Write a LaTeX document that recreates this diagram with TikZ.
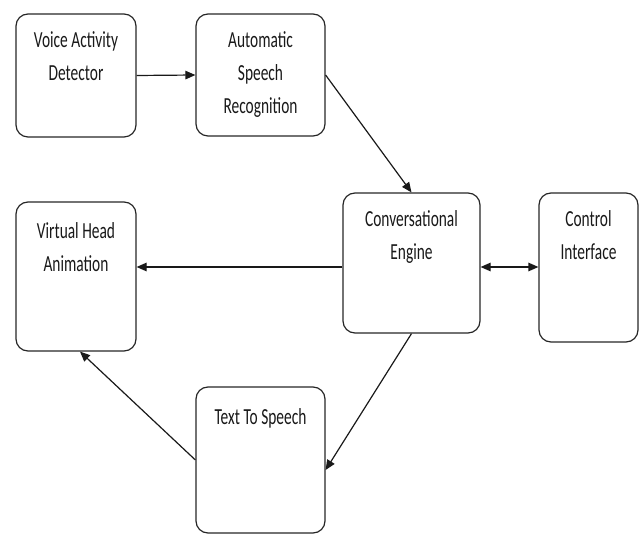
\documentclass[tikz,border=0pt]{standalone}
\usepackage{fontspec}
\setmainfont{Carlito}[FakeStretch=0.67]
\usetikzlibrary{arrows.meta}
\begin{document}
\begin{tikzpicture}[x=1pt,y=-1pt,
  blk/.style={draw=black!85, line width=1.2pt, rounded corners=12pt, inner sep=0pt},
  lbl/.style={anchor=north, align=center, inner sep=0pt, text=black!90,
              font=\fontsize{23}{33}\selectfont},
  arr/.style={draw=black!90, line width=1.2pt, -{Triangle[length=10pt,width=8.5pt]}},
  darr/.style={draw=black!90, line width=1.2pt, {Triangle[length=10pt,width=8.5pt]}-{Triangle[length=10pt,width=8.5pt]}}]
\useasboundingbox (0,0) rectangle (641,534);

% blocks
\node[blk, minimum width=120pt, minimum height=123pt] (vad) at (76,75.5) {};
\node[blk, minimum width=129pt, minimum height=122pt] (asr) at (260.5,75) {};
\node[blk, minimum width=137pt, minimum height=140pt] (ce)  at (411.5,263) {};
\node[blk, minimum width=99pt,  minimum height=149pt] (ci)  at (588.5,267.5) {};
\node[blk, minimum width=120pt, minimum height=149pt] (vha) at (76,276.5) {};
\node[blk, minimum width=129pt, minimum height=146pt] (tts) at (260.5,460) {};

% block titles
\node[lbl] (vadt) at ([yshift=-18pt]vad.north) {Voice Activity\\Detector};
\node[lbl] (asrt) at ([yshift=-18pt]asr.north) {Automatic\\Speech\\Recognition};
\node[lbl] (cet)  at ([yshift=-18pt]ce.north)  {Conversational\\Engine};
\node[lbl] (cit)  at ([yshift=-18pt]ci.north)  {Control\\Interface};
\node[lbl] (vhat) at ([yshift=-21pt]vha.north) {Virtual Head\\Animation};
\node[lbl] (ttst) at ([yshift=-22pt]tts.north) {Text To Speech};

% connectors
\draw[arr] (vad.east) -- (asr.west);
\draw[arr] (asr.east) -- (ce.north);
\coordinate (ceL) at ([yshift=-4pt]ce.west);
\draw[arr] (ceL) -- (ceL -| vha.east);
\coordinate (ceR) at ([yshift=-4pt]ce.east);
\draw[darr] (ceR) -- (ceR -| ci.west);
\draw[arr] (ce.south) -- ([yshift=-10pt]tts.east);
\draw[arr] (tts.west) -- ([xshift=4pt]vha.south);
\end{tikzpicture}
\end{document}
